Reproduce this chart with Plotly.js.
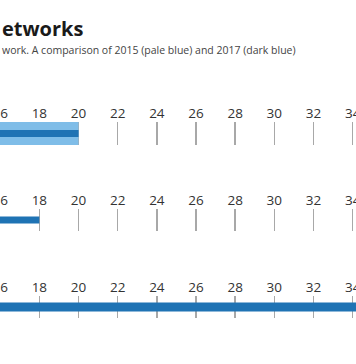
<!DOCTYPE html>
<html>
<head>
<meta charset="utf-8">
<script src="https://cdn.plot.ly/plotly-3.0.1.min.js"></script>
<style>html,body{margin:0;padding:0;background:#fff;}#chart{width:356px;height:364px;}</style>
</head>
<body>
<div id="chart"></div>
<script>
// Data (cropped view: axis 16–34 visible)
var networks = ['Network A', 'Network B', 'Network C'];
var values2015 = [20, 10, 12];
var values2017 = [20, 18, 38];
var tickValues = [16, 18, 20, 22, 24, 26, 28, 30, 32, 34];
var titleText = 'etworks';
var subtitleText = 'work. A comparison of 2015 (pale blue) and 2017 (dark blue)';

var pale = '#7fbde8';
var dark = '#1f73b4';
var darkWidths = [0.3, 0.32, 0.4];

var traces = [];
var layout = {
  width: 356, height: 364,
  margin: {l: 0, r: 0, t: 0, b: 0},
  paper_bgcolor: '#ffffff', plot_bgcolor: '#ffffff',
  showlegend: false,
  barmode: 'overlay',
  font: {family: 'Open Sans, sans-serif', color: '#333333'},
  annotations: [
    {text: titleText, xref: 'paper', yref: 'paper', x: 0, y: 1 - 28.5/364, xanchor: 'left', yanchor: 'middle',
     showarrow: false, font: {family: 'Open Sans, sans-serif', size: 20, color: '#1a1a1a', weight: 'bold'}},
    {text: subtitleText, xref: 'paper', yref: 'paper', x: 0, y: 1 - 50/364, xanchor: 'left', yanchor: 'middle',
     showarrow: false, font: {family: 'Open Sans, sans-serif', size: 10.5, color: '#444444'}}
  ]
};
var domains = [[122, 145], [209, 231], [296, 318]];
for (var i = 0; i < networks.length; i++) {
  var sx = i === 0 ? '' : String(i + 1);
  var xa = 'x' + sx, ya = 'y' + sx;
  traces.push({type: 'bar', orientation: 'h', x: [values2015[i]], y: [networks[i]], width: 1,
    marker: {color: pale}, xaxis: xa, yaxis: ya, hoverinfo: 'none'});
  traces.push({type: 'bar', orientation: 'h', x: [values2017[i]], y: [networks[i]], width: darkWidths[i],
    marker: {color: dark}, xaxis: xa, yaxis: ya, hoverinfo: 'none'});
  layout['xaxis' + sx] = {
    anchor: ya, side: 'top', range: [15.99, 34.17],
    tickvals: tickValues, ticktext: tickValues.map(String),
    ticklabeloverflow: 'allow',
    showgrid: true, gridcolor: '#a8a8a8', gridwidth: 1.5,
    zeroline: false, showline: false, ticks: '',
    tickfont: {size: 13.5, color: '#333333', family: 'Open Sans, sans-serif'},
    fixedrange: true
  };
  layout['yaxis' + sx] = {
    anchor: xa, domain: [1 - domains[i][1] / 364, 1 - domains[i][0] / 364],
    range: [-0.5, 0.5], showticklabels: false, showgrid: false, zeroline: false, showline: false, ticks: '',
    fixedrange: true
  };
}
Plotly.newPlot('chart', traces, layout, {displayModeBar: false, staticPlot: true});
</script>
</body>
</html>
